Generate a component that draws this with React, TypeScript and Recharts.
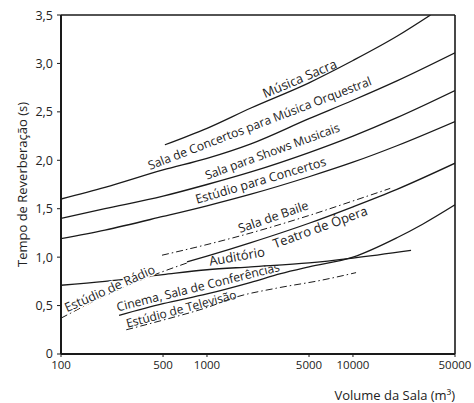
import React from "react";
import {
  LineChart,
  Line,
  XAxis,
  YAxis,
  ReferenceDot,
  ReferenceLine,
} from "recharts";

// Axis ticks
const volumeTicks = [100, 500, 1000, 5000, 10000, 50000];
const timeTicks = [0, 0.5, 1, 1.5, 2, 2.5, 3, 3.5];

// Optimum reverberation time (s) by room volume (m³), one list per room type
const musicaSacra: [number, number][] = [
  [515, 2.16], [1000, 2.33], [2000, 2.54], [5000, 2.8], [10000, 3.03], [20000, 3.28], [34000, 3.5],
];
const salaConcertos: [number, number][] = [
  [100, 1.6], [200, 1.72], [500, 1.9], [1000, 2.02], [2000, 2.17], [5000, 2.43], [10000, 2.62], [20000, 2.82], [50000, 3.11],
];
const salaShows: [number, number][] = [
  [100, 1.4], [200, 1.5], [500, 1.63], [1000, 1.75], [2000, 1.88], [5000, 2.08], [10000, 2.25], [20000, 2.44], [50000, 2.72],
];
const estudioConcertos: [number, number][] = [
  [100, 1.19], [200, 1.28], [500, 1.42], [1000, 1.53], [2000, 1.65], [5000, 1.83], [10000, 1.98], [20000, 2.15], [50000, 2.4],
];
const salaBaile: [number, number][] = [
  [492, 1.02], [1000, 1.13], [2000, 1.25], [5000, 1.43], [10000, 1.58], [18000, 1.71],
];
const teatroOpera: [number, number][] = [
  [730, 0.95], [1000, 1.01], [2000, 1.15], [5000, 1.35], [10000, 1.52], [20000, 1.7], [50000, 1.97],
];
const auditorio: [number, number][] = [
  [100, 0.71], [200, 0.75], [500, 0.82], [1000, 0.87], [2000, 0.9], [5000, 0.94], [10000, 0.99], [25000, 1.07],
];
const estudioRadio: [number, number][] = [
  [100, 0.37], [200, 0.6], [440, 0.82], [730, 0.94],
];
const cinema: [number, number][] = [
  [250, 0.4], [500, 0.52], [1000, 0.62], [2000, 0.74], [3200, 0.83], [5000, 0.9], [10000, 1.0], [20000, 1.2], [30000, 1.34], [50000, 1.54],
];
const estudioTV: [number, number][] = [
  [280, 0.25], [500, 0.35], [1000, 0.48], [1600, 0.59], [3000, 0.68], [6000, 0.76], [10500, 0.84],
];

const toPoints = (pairs: [number, number][]) => pairs.map(([v, t]) => ({ v, t }));

const INK = "#1a1a1a";
const TEXT = "#222222";
const FONT = "'Open Sans', 'DejaVu Sans', sans-serif";
const DASH_DOT = "7 3 1.5 3";

const series = [
  { name: "Música Sacra", pts: musicaSacra, dashed: false },
  { name: "Sala de Concertos para Música Orquestral", pts: salaConcertos, dashed: false },
  { name: "Sala para Shows Musicais", pts: salaShows, dashed: false },
  { name: "Estúdio para Concertos", pts: estudioConcertos, dashed: false },
  { name: "Sala de Baile", pts: salaBaile, dashed: true },
  { name: "Teatro de Ópera", pts: teatroOpera, dashed: false },
  { name: "Auditório", pts: auditorio, dashed: false },
  { name: "Estúdio de Rádio", pts: estudioRadio, dashed: true },
  { name: "Cinema, Sala de Conferências", pts: cinema, dashed: false },
  { name: "Estúdio de Televisão", pts: estudioTV, dashed: true },
];

// Rotated captions written along each curve (anchor = start of baseline)
const curveLabels = [
  { text: "Música Sacra", v: 2500, t: 2.64, angle: 23, size: 13, halo: false },
  { text: "Sala de Concertos para Música Orquestral", v: 407, t: 1.9, angle: 21, size: 12.2, halo: false },
  { text: "Sala para Shows Musicais", v: 1000, t: 1.8, angle: 20, size: 12, halo: false },
  { text: "Estúdio para Concertos", v: 853, t: 1.55, angle: 16.5, size: 12.5, halo: false },
  { text: "Sala de Baile", v: 1683, t: 1.25, angle: 19, size: 12.5, halo: false },
  { text: "Teatro de Ópera", v: 2930, t: 1.09, angle: 20, size: 13, halo: false },
  { text: "Auditório", v: 1048, t: 0.91, angle: 10, size: 13, halo: false },
  { text: "Estúdio de Rádio", v: 110, t: 0.43, angle: 24, size: 12.5, halo: true },
  { text: "Cinema, Sala de Conferências", v: 245, t: 0.44, angle: 14, size: 12.2, halo: false },
  { text: "Estúdio de Televisão", v: 285, t: 0.27, angle: 15, size: 12, halo: false },
];

const fmtTime = (v: number) => (v === 0 ? "0" : v.toFixed(1).replace(".", ","));

const makeCurveLabel = (text: string, angle: number, size: number, halo: boolean) => (props: any) => {
  const vb = props.viewBox || {};
  const x = (vb.x ?? 0) + (vb.width ?? 0) / 2;
  const y = (vb.y ?? 0) + (vb.height ?? 0) / 2;
  return (
    <text
      x={x}
      y={y}
      transform={`rotate(${-angle} ${x} ${y})`}
      fontFamily={FONT}
      fontSize={size}
      fill={TEXT}
      stroke={halo ? "#ffffff" : "none"}
      strokeWidth={halo ? 3 : 0}
      paintOrder="stroke"
    >
      {text}
    </text>
  );
};

const yTitle = (props: any) => {
  const vb = props.viewBox || {};
  const cx = (vb.x ?? 0) + 14;
  const cy = (vb.y ?? 0) + (vb.height ?? 0) / 2;
  return (
    <text
      x={cx}
      y={cy}
      transform={`rotate(-90 ${cx} ${cy})`}
      textAnchor="middle"
      dominantBaseline="central"
      fontFamily={FONT}
      fontSize={13}
      fill={TEXT}
    >
      Tempo de Reverberação (s)
    </text>
  );
};

const xTitle = (props: any) => {
  const vb = props.viewBox || {};
  const x = (vb.x ?? 0) + (vb.width ?? 0);
  const y = (vb.y ?? 0) + 41;
  return (
    <text
      x={x}
      y={y}
      textAnchor="end"
      dominantBaseline="central"
      fontFamily={FONT}
      fontSize={13}
      fill={TEXT}
    >
      Volume da Sala (m³)
    </text>
  );
};

export default function App() {
  return (
    <div style={{ position: "fixed", left: 8, top: 8 }}>
      <LineChart
        width={466}
        height={395}
        margin={{ top: 7, right: 19, bottom: 2, left: 0 }}
        style={{ background: "#ffffff", overflow: "visible" }}
      >
        <XAxis
          dataKey="v"
          type="number"
          scale="log"
          domain={[100, 50000]}
          allowDataOverflow
          ticks={volumeTicks}
          tickFormatter={(v: number) => String(v)}
          height={47}
          tickSize={3}
          tickMargin={4}
          axisLine={{ stroke: INK, strokeWidth: 2 }}
          tickLine={{ stroke: INK }}
          tick={{ fontFamily: FONT, fontSize: 11.5, fill: TEXT }}
          label={xTitle}
        />
        <YAxis
          type="number"
          domain={[0, 3.5]}
          allowDataOverflow
          ticks={timeTicks}
          tickFormatter={fmtTime}
          width={53}
          tickSize={4}
          tickMargin={4}
          axisLine={{ stroke: INK, strokeWidth: 2 }}
          tickLine={{ stroke: INK }}
          tick={{ fontFamily: FONT, fontSize: 12.5, fill: TEXT }}
          label={yTitle}
        />
        <ReferenceLine y={3.5} stroke={INK} strokeWidth={1.6} />
        <ReferenceLine x={50000} stroke={INK} strokeWidth={1.6} />
        {series.map((s) => (
          <Line
            key={s.name}
            name={s.name}
            data={toPoints(s.pts)}
            dataKey="t"
            type="monotone"
            stroke={INK}
            strokeWidth={s.dashed ? 1 : 1.3}
            strokeDasharray={s.dashed ? DASH_DOT : undefined}
            dot={false}
            activeDot={false}
            isAnimationActive={false}
          />
        ))}
        {curveLabels.map((l) => (
          <ReferenceDot
            key={l.text}
            x={l.v}
            y={l.t}
            r={1}
            fill="none"
            stroke="none"
            label={makeCurveLabel(l.text, l.angle, l.size, l.halo)}
          />
        ))}
      </LineChart>
    </div>
  );
}
